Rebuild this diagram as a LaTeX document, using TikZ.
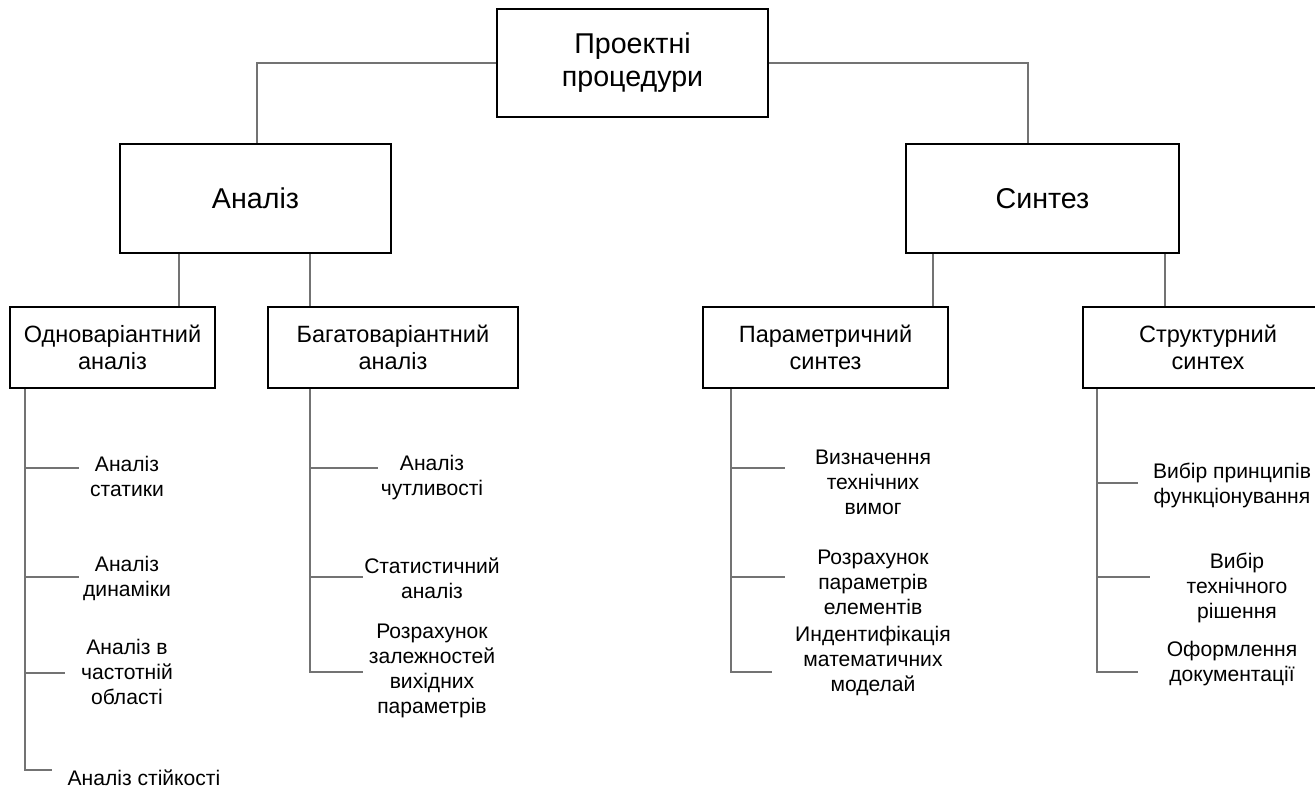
\documentclass[tikz,border=0pt]{standalone}
\usepackage{fontspec}
\setmainfont{Liberation Sans}
\begin{document}
\begin{tikzpicture}[x=0.02cm,y=-0.02cm,
  bigbox/.style={draw=black, line width=1.1pt, inner sep=0pt, align=center, font=\fontsize{16.3}{18.8}\selectfont},
  midbox/.style={draw=black, line width=1.1pt, inner sep=0pt, align=center, minimum height=1.62cm, font=\fontsize{13.4}{15.4}\selectfont},
  leaf/.style={inner sep=0pt, align=center, font=\fontsize{12}{14.2}\selectfont},
  conn/.style={draw=black!55, line width=0.6pt}]
\useasboundingbox (0,0) rectangle (1315,792);
\clip (0,0) rectangle (1315,792);

% boxes
\node[bigbox, minimum width=5.42cm, minimum height=2.16cm] (top) at (632.5,63) {Проектні\\процедури};
\node[bigbox, minimum width=5.42cm, minimum height=2.18cm] (an) at (255.5,198.5) {Аналіз};
\node[bigbox, minimum width=5.46cm, minimum height=2.18cm] (sy) at (1042.5,198.5) {Синтез};
\node[midbox, minimum width=4.1cm] (odno) at (112.5,347.5) {Одноваріантний\\аналіз};
\node[midbox, minimum width=5.0cm] (bag) at (393,347.5) {Багатоваріантний\\аналіз};
\node[midbox, minimum width=4.9cm] (par) at (825.5,347.5) {Параметричний\\синтез};
\node[midbox, minimum width=5.0cm] (str) at (1208,347.5) {Структурний\\синтех};

% leaves
\node[leaf] (l11) at (127,476) {Аналіз\\статики};
\node[leaf] (l12) at (127,578) {Аналіз\\динаміки};
\node[leaf] (l13) at (127,672) {Аналіз в\\частотній\\області};
\node[leaf] (l14) at (144,778) {Аналіз стійкості};
\node[leaf] (l21) at (432,478) {Аналіз\\чутливості};
\node[leaf] (l22) at (432,578) {Статистичний\\аналіз};
\node[leaf] (l23) at (432,671) {Розрахунок\\залежностей\\вихідних\\параметрів};
\node[leaf] (l31) at (873,482) {Визначення\\технічних\\вимог};
\node[leaf] (l32) at (873,582) {Розрахунок\\параметрів\\елементів};
\node[leaf] (l33) at (873,661) {Индентифікація\\математичних\\моделай};
\node[leaf] (l41) at (1232,485) {Вибір принципів\\функціонування};
\node[leaf] (l42) at (1237,588) {Вибір\\технічного\\рішення};
\node[leaf] (l43) at (1232,664) {Оформлення\\документації};

% connector x positions
\coordinate (xA) at (257,0);
\coordinate (xS) at (1028,0);
\coordinate (x1) at (179,0);
\coordinate (x2) at (310,0);
\coordinate (x3) at (933,0);
\coordinate (x4) at (1165,0);
\coordinate (s1) at (25,0);
\coordinate (s2) at (310,0);
\coordinate (s3) at (731,0);
\coordinate (s4) at (1097,0);

% branch ends
\coordinate (e11) at (79,468);
\coordinate (e12) at (79,577);
\coordinate (e13) at (65,673);
\coordinate (e14) at (52,770);
\coordinate (e21) at (378,468);
\coordinate (e22) at (363,577);
\coordinate (e23) at (363,672);
\coordinate (e31) at (785,468);
\coordinate (e32) at (785,577);
\coordinate (e33) at (772,672);
\coordinate (e41) at (1138,483);
\coordinate (e42) at (1150,577);
\coordinate (e43) at (1138,672);

% top level connectors
\draw[conn] (top.west) -| (an.north -| xA);
\draw[conn] (top.east) -| (sy.north -| xS);
\draw[conn] (an.south -| x1) -- (odno.north -| x1);
\draw[conn] (an.south -| x2) -- (bag.north -| x2);
\draw[conn] (sy.south -| x3) -- (par.north -| x3);
\draw[conn] (sy.south -| x4) -- (str.north -| x4);

% spines and branches
\draw[conn] (odno.south -| s1) |- (e14);
\draw[conn] (e11 -| s1) -- (e11);
\draw[conn] (e12 -| s1) -- (e12);
\draw[conn] (e13 -| s1) -- (e13);

\draw[conn] (bag.south -| s2) |- (e23);
\draw[conn] (e21 -| s2) -- (e21);
\draw[conn] (e22 -| s2) -- (e22);

\draw[conn] (par.south -| s3) |- (e33);
\draw[conn] (e31 -| s3) -- (e31);
\draw[conn] (e32 -| s3) -- (e32);

\draw[conn] (str.south -| s4) |- (e43);
\draw[conn] (e41 -| s4) -- (e41);
\draw[conn] (e42 -| s4) -- (e42);
\end{tikzpicture}
\end{document}
